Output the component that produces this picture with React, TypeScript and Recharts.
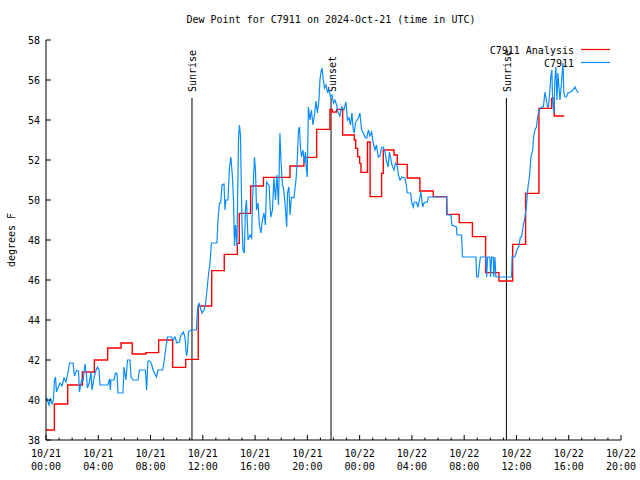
import React from 'react';
import { LineChart, Line, XAxis, YAxis, ReferenceLine } from 'recharts';

// Hours since 2024-10-21 00:00 UTC
const analysisHours = [
  0, 0.64, 1.66, 2.78, 3.7, 4.72, 5.74, 6.6, 7.65, 8.62,
  9.69, 10.69, 11.65, 12.68, 13.64, 14.64, 14.79, 15.66, 16.64, 18.67,
  19.74, 20.71, 21.73, 21.9, 22.24, 22.7, 23.59, 23.7, 23.85, 24.0,
  24.1, 24.6, 24.8, 25.68, 25.81, 26.63, 26.88, 27.64, 28.61, 29.63,
  30.66, 31.62, 32.63, 33.64, 34.66, 35.71, 36.7, 37.72, 38.69, 38.89,
  39.66,
];
const analysisValues = [
  38.5, 39.8, 40.75, 41.4, 42.0, 42.6, 42.85, 42.3, 42.37, 43.0,
  41.63, 42.03, 44.7, 46.47, 47.28, 47.83, 49.33, 50.7, 51.13, 51.7,
  52.13, 53.53, 54.53, 54.4, 54.53, 53.25, 53.0, 52.58, 52.17, 51.83,
  51.38, 52.9, 50.17, 51.33, 52.5, 52.25, 51.78, 51.1, 50.45, 50.17,
  49.28, 48.87, 48.17, 46.37, 45.95, 47.78, 50.33, 54.58, 55.08, 54.2,
  54.2,
];

const obsHours = [
  0, 0.11, 0.23, 0.34, 0.46, 0.57, 0.65, 0.73, 0.8, 0.92,
  1.07, 1.22, 1.38, 1.53, 1.68, 1.8, 2.07, 2.18, 2.33, 2.49,
  2.56, 2.72, 2.83, 2.98, 3.1, 3.17, 3.33, 3.44, 3.52, 3.67,
  3.83, 3.94, 4.06, 4.13, 4.74, 4.86, 4.93, 4.97, 5.2, 5.32,
  5.43, 5.51, 5.89, 5.97, 6.12, 6.24, 6.43, 6.5, 6.66, 7.04,
  7.15, 7.61, 7.7, 7.8, 7.96, 8.07, 8.19, 8.45, 8.57, 8.93,
  9.03, 9.18, 9.3, 9.6, 9.72, 9.87, 10.02, 10.21, 10.33, 10.52,
  10.64, 10.75, 10.83, 10.9, 11.09, 11.51, 11.59, 11.71, 11.82, 11.94,
  12.09, 12.2, 12.32, 12.43, 12.55, 12.66, 13.08, 13.16, 13.27, 13.37,
  13.47, 13.62, 13.7, 13.77, 13.92, 14.04, 14.15, 14.27, 14.35, 14.42,
  14.5, 14.61, 14.73, 14.8, 14.88, 14.99, 15.07, 15.17, 15.26, 15.34,
  15.46, 15.61, 15.74, 15.8, 15.88, 15.95, 16.03, 16.11, 16.22, 16.33,
  16.45, 16.56, 16.68, 16.79, 16.88, 17.08, 17.14, 17.21, 17.33, 17.44,
  17.56, 17.67, 17.79, 17.87, 17.9, 17.98, 18.09, 18.17, 18.29, 18.42,
  18.48, 18.59, 18.67, 18.78, 18.97, 19.13, 19.23, 19.32, 19.4, 19.47,
  19.55, 19.66, 19.78, 19.85, 19.93, 19.99, 20.08, 20.2, 20.31, 20.43,
  20.54, 20.66, 20.77, 20.89, 20.96, 21.04, 21.12, 21.22, 21.31, 21.42,
  21.54, 21.65, 21.77, 21.88, 22.0, 22.11, 22.24, 22.34, 22.49, 22.62,
  22.8, 22.95, 23.07, 23.18, 23.3, 23.41, 23.51, 23.59, 23.68, 23.8,
  23.91, 24.02, 24.15, 24.28, 24.41, 24.54, 24.67, 24.79, 24.92, 25.02,
  25.17, 25.29, 25.42, 25.55, 25.67, 25.81, 25.94, 26.07, 26.19, 26.28,
  26.37, 26.47, 26.63, 26.74, 26.88, 26.97, 27.09, 27.24, 27.47, 27.57,
  27.64, 27.9, 28.0, 28.1, 28.19, 28.35, 28.46, 28.58, 28.69, 28.82,
  28.92, 29.07, 29.19, 29.25, 30.66, 30.7, 30.99, 31.06, 31.41, 31.45,
  31.8, 31.87, 32.9, 32.95, 33.07, 33.16, 33.24, 33.66, 33.72, 33.79,
  33.97, 34.02, 34.1, 34.22, 34.27, 34.35, 34.43, 35.63, 35.67, 35.88,
  36.04, 36.19, 36.3, 36.4, 36.5, 36.65, 36.76, 36.88, 36.99, 37.11,
  37.24, 37.31, 37.41, 37.53, 37.62, 37.74, 37.93, 38.06, 38.18, 38.25,
  38.37, 38.45, 38.56, 38.64, 38.71, 38.77, 38.87, 38.94, 39.02, 39.1,
  39.17, 39.25, 39.33, 39.46, 39.56, 39.63, 39.71, 39.82, 39.94, 40.17,
  40.32, 40.48, 40.59, 40.73,
];
const obsValues = [
  40.15, 40.0, 39.75, 40.1, 39.8, 40.0, 41.0, 41.15, 40.4, 40.6,
  40.85, 40.7, 41.1, 40.9, 41.35, 41.85, 41.85, 41.2, 41.47, 41.45,
  40.4, 41.0, 40.95, 41.8, 41.25, 40.6, 40.9, 41.4, 40.5, 41.1,
  41.5, 41.65, 41.5, 40.75, 40.75, 41.05, 40.5, 41.0, 41.0, 41.35,
  41.35, 40.35, 40.35, 41.65, 41.0, 42.0, 42.0, 41.15, 41.0, 41.0,
  41.5, 41.5, 40.5, 41.95, 41.95, 41.8, 41.5, 41.15, 41.5, 41.5,
  41.9, 42.65, 43.15, 43.15, 43.0, 43.15, 42.85, 42.9, 43.25, 43.4,
  43.1, 42.2, 42.5, 43.4, 43.5, 43.5, 44.5, 44.85, 44.6, 44.35,
  44.5, 44.75, 45.5, 46.25, 46.85, 47.85, 47.85, 49.0, 49.85, 49.85,
  50.75, 50.8, 49.5, 50.0, 50.0, 51.65, 52.15, 51.1, 50.0, 47.7,
  48.75, 47.7, 53.0, 53.75, 53.25, 49.0, 47.5, 47.35, 49.5, 50.0,
  48.0, 48.25, 48.1, 50.0, 51.0, 52.15, 51.5, 49.5, 49.85, 48.75,
  48.35, 49.0, 49.35, 48.75, 50.9, 50.7, 49.75, 49.15, 49.5, 51.1,
  50.0, 51.25, 49.75, 52.35, 53.35, 52.0, 50.75, 50.6, 49.85, 48.65,
  50.35, 50.65, 49.25, 50.15, 50.1, 51.0, 52.0, 53.5, 53.65, 52.65,
  52.15, 52.5, 51.85, 52.4, 51.5, 51.15, 54.65, 54.0, 54.5, 53.75,
  54.25, 54.95, 54.35, 55.0, 56.0, 56.4, 56.6, 56.0, 55.6, 55.75,
  55.4, 55.5, 55.15, 55.25, 54.85, 55.0, 54.75, 54.4, 54.2, 54.65,
  54.5, 54.9, 54.0, 54.1, 53.75, 54.35, 53.5, 53.35, 53.85, 54.0,
  54.1, 54.35, 53.5, 53.35, 53.15, 53.1, 53.5, 53.2, 53.4, 52.9,
  52.5, 52.75, 52.15, 52.2, 52.6, 52.65, 52.4, 51.9, 51.65, 52.4,
  52.1, 51.75, 51.5, 51.85, 51.7, 51.25, 51.0, 51.15, 51.1, 50.75,
  50.35, 50.35, 49.85, 49.65, 49.9, 49.9, 49.65, 50.0, 50.4, 49.65,
  49.85, 49.9, 49.9, 50.15, 50.15, 49.25, 49.25, 48.75, 48.65, 48.25,
  48.25, 47.15, 47.15, 46.15, 46.15, 46.7, 47.15, 47.15, 46.15, 47.15,
  47.15, 46.15, 47.15, 47.15, 46.15, 47.15, 46.15, 46.15, 47.15, 47.15,
  47.5, 47.7, 48.15, 48.15, 48.65, 49.15, 49.65, 50.65, 51.15, 52.15,
  52.5, 53.15, 53.5, 53.65, 54.15, 54.5, 54.65, 54.65, 55.4, 55.15,
  54.65, 54.65, 55.5, 56.25, 56.5, 54.9, 54.35, 56.0, 56.65, 55.0,
  56.35, 55.65, 55.0, 56.0, 56.85, 55.35, 55.15, 55.15, 55.35, 55.4,
  55.5, 55.65, 55.5, 55.35,
];

const majorTickHours = [0, 4, 8, 12, 16, 20, 24, 28, 32, 36, 40, 44];
const dayLabels = ['10/21', '10/21', '10/21', '10/21', '10/21', '10/21', '10/22', '10/22', '10/22', '10/22', '10/22', '10/22'];
const timeLabels = ['00:00', '04:00', '08:00', '12:00', '16:00', '20:00', '00:00', '04:00', '08:00', '12:00', '16:00', '20:00'];
const allTickHours = Array.from({ length: 45 }, (_, i) => i);
const yTicks = [38, 40, 42, 44, 46, 48, 50, 52, 54, 56, 58];

const eventLabels = ['Sunrise', 'Sunset', 'Sunrise'];
const eventHours = [11.17, 21.81, 35.23];
const eventTop = 55.1;

const analysisData = analysisHours.map((h, i) => ({ h, v: analysisValues[i] }));
const obsData = obsHours.map((h, i) => ({ h, v: obsValues[i] }));

const FONT = 'DejaVu Sans Mono, monospace';
const FS = 10;
const RED = '#ff0000';
const BLUE = '#0a8cff';

const BottomTick = (props: any) => {
  const { x, y, payload } = props;
  const idx = majorTickHours.indexOf(payload.value);
  const major = idx >= 0;
  const len = major ? 5 : 2.5;
  return (
    <g>
      <line x1={x} y1={y} x2={x} y2={y - len} stroke="#000" strokeWidth={1} />
      {major && (
        <text x={x} y={y + 16.5} textAnchor="middle" fontFamily={FONT} fontSize={FS} fill="#000">
          {dayLabels[idx]}
        </text>
      )}
      {major && (
        <text x={x} y={y + 29.5} textAnchor="middle" fontFamily={FONT} fontSize={FS} fill="#000">
          {timeLabels[idx]}
        </text>
      )}
    </g>
  );
};

const TopTick = (props: any) => {
  const { x, y, payload } = props;
  const major = majorTickHours.indexOf(payload.value) >= 0;
  const len = major ? 5 : 2.5;
  return <line x1={x} y1={y} x2={x} y2={y + len} stroke="#000" strokeWidth={1} />;
};

const LeftTick = (props: any) => {
  const { x, y, payload } = props;
  return (
    <g>
      <line x1={x} y1={y} x2={x + 5} y2={y} stroke="#000" strokeWidth={1} />
      <text x={x - 6} y={y + 3.6} textAnchor="end" fontFamily={FONT} fontSize={FS} fill="#000">
        {payload.value}
      </text>
    </g>
  );
};

const RightTick = (props: any) => {
  const { x, y } = props;
  return <line x1={x} y1={y} x2={x - 5} y2={y} stroke="#000" strokeWidth={1} />;
};

const makeEventShape = (label: string) => (p: any) => {
  const top = Math.min(p.y1, p.y2);
  const bottom = Math.max(p.y1, p.y2);
  const tx = p.x1 + 4.5;
  const ty = top - 6;
  return (
    <g>
      <line x1={p.x1} y1={bottom} x2={p.x2} y2={top} stroke="#000" strokeWidth={1} />
      <text
        x={tx}
        y={ty}
        transform={`rotate(-90 ${tx} ${ty})`}
        textAnchor="start"
        fontFamily={FONT}
        fontSize={FS}
        fill="#000"
      >
        {label}
      </text>
    </g>
  );
};

export default function App() {
  return (
    <div style={{ position: 'absolute', left: 0, top: 0, width: 640, height: 480, background: '#fff' }}>
      <LineChart width={640} height={480} margin={{ top: 40, right: 19, bottom: 0, left: 0 }}>
        <XAxis
          dataKey="h"
          type="number"
          domain={[0, 44]}
          allowDataOverflow
          ticks={allTickHours}
          interval={0}
          height={40}
          tickSize={0}
          tickMargin={0}
          tickLine={false}
          axisLine={{ stroke: '#000', strokeWidth: 1 }}
          tick={<BottomTick />}
        />
        <XAxis
          xAxisId="top"
          orientation="top"
          type="number"
          domain={[0, 44]}
          allowDataOverflow
          ticks={allTickHours}
          interval={0}
          height={0}
          tickSize={0}
          tickMargin={0}
          tickLine={false}
          axisLine={{ stroke: '#000', strokeWidth: 1 }}
          tick={<TopTick />}
        />
        <YAxis
          type="number"
          domain={[38, 58]}
          allowDataOverflow
          ticks={yTicks}
          interval={0}
          width={46}
          tickSize={0}
          tickMargin={0}
          tickLine={false}
          axisLine={{ stroke: '#000', strokeWidth: 1 }}
          tick={<LeftTick />}
        />
        <YAxis
          yAxisId="right"
          orientation="right"
          type="number"
          domain={[38, 58]}
          allowDataOverflow
          ticks={yTicks}
          interval={0}
          width={0}
          tickSize={0}
          tickMargin={0}
          tickLine={false}
          axisLine={{ stroke: '#000', strokeWidth: 1 }}
          tick={<RightTick />}
        />
        {eventHours.map((h, i) => (
          <ReferenceLine
            key={i}
            segment={[{ x: h, y: 38 }, { x: h, y: eventTop }]}
            stroke="#000"
            shape={makeEventShape(eventLabels[i])}
          />
        ))}
        <Line
          data={analysisData}
          dataKey="v"
          type="stepAfter"
          stroke={RED}
          strokeWidth={1.4}
          dot={false}
          isAnimationActive={false}
        />
        <Line
          data={obsData}
          dataKey="v"
          type="linear"
          stroke={BLUE}
          strokeWidth={1.2}
          dot={false}
          isAnimationActive={false}
        />
      </LineChart>
      <svg
        width={640}
        height={480}
        style={{ position: 'absolute', left: 0, top: 0, pointerEvents: 'none' }}
      >
        <text x={331} y={23} textAnchor="middle" fontFamily={FONT} fontSize={FS} fill="#000">
          Dew Point for C7911 on 2024-Oct-21 (time in UTC)
        </text>
        <text
          x={14.5}
          y={240}
          transform="rotate(-90 14.5 240)"
          textAnchor="middle"
          fontFamily={FONT}
          fontSize={FS}
          fill="#000"
        >
          degrees F
        </text>
        <text x={574} y={54} textAnchor="end" fontFamily={FONT} fontSize={FS} fill="#000">
          C7911 Analysis
        </text>
        <line x1={581} y1={49.5} x2={610} y2={49.5} stroke={RED} strokeWidth={1.2} />
        <text x={574} y={67} textAnchor="end" fontFamily={FONT} fontSize={FS} fill="#000">
          C7911
        </text>
        <line x1={581} y1={62.5} x2={610} y2={62.5} stroke={BLUE} strokeWidth={1.2} />
      </svg>
    </div>
  );
}
